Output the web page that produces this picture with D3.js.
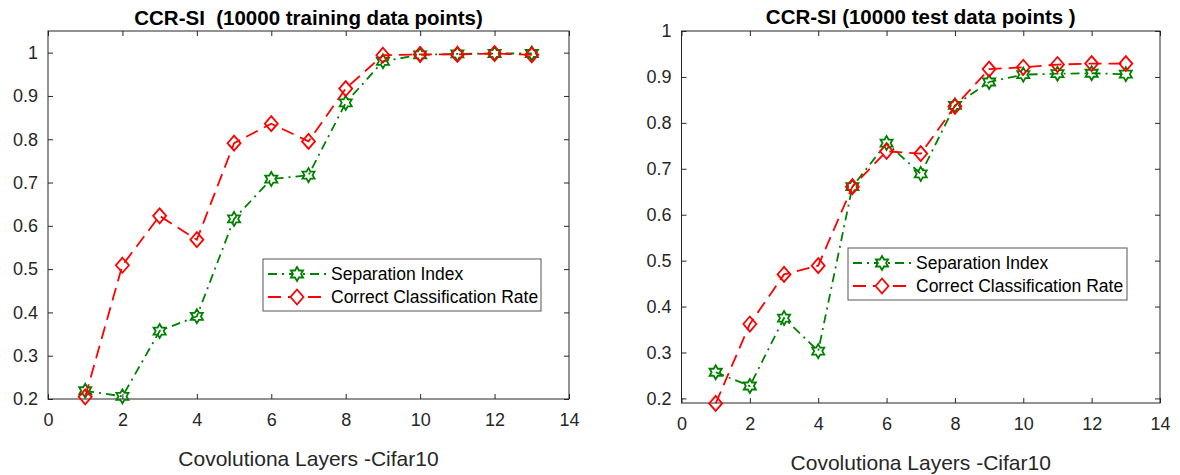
<!DOCTYPE html>
<html>
<head>
<meta charset="utf-8">
<script src="https://cdn.jsdelivr.net/npm/d3@7"></script>
<style>
  body { margin: 0; background: #fff; }
  svg { font-family: "Liberation Sans", Arial, Helvetica, sans-serif; }
</style>
</head>
<body>
<svg id="chart" width="1180" height="475"></svg>
<script>
// layers on the x axis
var layers = [1, 2, 3, 4, 5, 6, 7, 8, 9, 10, 11, 12, 13];

// training set (left panel)
var trainSI  = [0.219, 0.206, 0.357, 0.391, 0.616, 0.708, 0.717, 0.884, 0.980, 0.995, 0.997, 0.998, 0.998];
var trainCCR = [0.205, 0.509, 0.623, 0.568, 0.791, 0.836, 0.795, 0.917, 0.994, 0.996, 0.996, 0.998, 0.995];

// test set (right panel)
var testSI  = [0.257, 0.227, 0.375, 0.303, 0.661, 0.756, 0.689, 0.838, 0.889, 0.905, 0.907, 0.908, 0.906];
var testCCR = [0.189, 0.362, 0.470, 0.489, 0.661, 0.738, 0.733, 0.836, 0.917, 0.921, 0.927, 0.929, 0.929];

var xTicks = [0, 2, 4, 6, 8, 10, 12, 14];
var yTicks = [0.2, 0.3, 0.4, 0.5, 0.6, 0.7, 0.8, 0.9, 1];

var seriesNames = ["Separation Index", "Correct Classification Rate"];
var titles = ["CCR-SI  (10000 training data points)", "CCR-SI (10000 test data points )"];
var xLabel = "Covolutiona Layers -Cifar10";

var GREEN = "#008000", RED = "#ff0000", AXC = "#262626";

var svg = d3.select("#chart");

var panels = [
    {left: 48, right: 569, top: 31, bottom: 399, ymin: 0.2, ymax: 1.05,
     si: trainSI, ccr: trainCCR, title: titles[0],
     legend: {x: 263, y: 259, w: 278, h: 52}, labelY: 466, titleY: 25},
    {left: 681.5, right: 1160, top: 31, bottom: 403, ymin: 0.19, ymax: 1.0,
     si: testSI, ccr: testCCR, title: titles[1],
     legend: {x: 848, y: 248, w: 279, h: 52}, labelY: 470, titleY: 24}
];

// six-pointed star (MATLAB 'h') and diamond ('d')
function hexagram(r) {
    var pts = [];
    for (var i = 0; i < 12; i++) {
        var a = -Math.PI / 2 + i * Math.PI / 6;
        var rr = (i % 2 === 0) ? r : r / Math.sqrt(3);
        pts.push([rr * Math.cos(a), rr * Math.sin(a)]);
    }
    return "M" + pts.join("L") + "Z";
}
var starPath = hexagram(7);
var diamondPath = "M0,-7.5L6.5,0L0,7.5L-6.5,0Z";

function drawSeries(g, x, y, vals, color, dash, marker) {
    var line = d3.line()
        .x(function(d, i) { return x(layers[i]); })
        .y(function(d) { return y(d); });
    g.append("path")
        .datum(vals)
        .attr("fill", "none")
        .attr("stroke", color)
        .attr("stroke-width", 1.8)
        .attr("stroke-dasharray", dash)
        .attr("d", line);
    g.selectAll(null)
        .data(vals)
        .enter()
        .append("path")
        .attr("d", marker)
        .attr("transform", function(d, i) { return "translate(" + x(layers[i]) + "," + y(d) + ")"; })
        .attr("fill", "none")
        .attr("stroke", color)
        .attr("stroke-width", 1.8);
}

panels.forEach(function(p) {
    var x = d3.scaleLinear().domain([0, 14]).range([p.left, p.right]);
    var y = d3.scaleLinear().domain([p.ymin, p.ymax]).range([p.bottom, p.top]);
    var g = svg.append("g");

    // axes, ticks pointing inward
    var xa = g.append("g")
        .attr("transform", "translate(0," + p.bottom + ")")
        .call(d3.axisBottom(x).tickValues(xTicks).tickSize(-5).tickPadding(14));
    var ya = g.append("g")
        .attr("transform", "translate(" + p.left + ",0)")
        .call(d3.axisLeft(y).tickValues(yTicks).tickSize(-5).tickPadding(10)
            .tickFormat(function(d) { return d === 1 ? "1" : d.toFixed(1); }));
    var xt = g.append("g")
        .attr("transform", "translate(0," + p.top + ")")
        .call(d3.axisTop(x).tickValues(xTicks).tickSize(-5).tickFormat(""));
    var yr = g.append("g")
        .attr("transform", "translate(" + p.right + ",0)")
        .call(d3.axisRight(y).tickValues(yTicks).tickSize(-5).tickFormat(""));

    [xa, ya, xt, yr].forEach(function(a) {
        a.select(".domain").remove();
        a.selectAll(".tick line").attr("stroke", AXC);
        a.selectAll(".tick text").attr("fill", AXC).style("font-size", "18px");
    });

    g.append("rect")
        .attr("x", p.left).attr("y", p.top)
        .attr("width", p.right - p.left).attr("height", p.bottom - p.top)
        .attr("fill", "none").attr("stroke", AXC).attr("stroke-width", 1);

    drawSeries(g, x, y, p.si, GREEN, "9,5,2,5", starPath);
    drawSeries(g, x, y, p.ccr, RED, "13,7", diamondPath);

    // title and x label
    g.append("text")
        .attr("x", (p.left + p.right) / 2).attr("y", p.titleY)
        .attr("text-anchor", "middle")
        .style("font-size", "20.5px").style("font-weight", "bold")
        .style("white-space", "pre")
        .attr("fill", "#000")
        .text(p.title);
    g.append("text")
        .attr("x", (p.left + p.right) / 2).attr("y", p.labelY)
        .attr("text-anchor", "middle")
        .style("font-size", "21px")
        .attr("fill", AXC)
        .text(xLabel);

    // legend
    var L = p.legend;
    var lg = g.append("g").attr("transform", "translate(" + L.x + "," + L.y + ")");
    lg.append("rect")
        .attr("width", L.w).attr("height", L.h)
        .attr("fill", "#fff").attr("stroke", "#555").attr("stroke-width", 1);
    var rows = [
        {name: seriesNames[0], color: GREEN, dash: "9,5,2,5", marker: starPath},
        {name: seriesNames[1], color: RED, dash: "13,7", marker: diamondPath}
    ];
    rows.forEach(function(r, i) {
        var cy = 15 + i * 23;
        lg.append("line")
            .attr("x1", 5).attr("x2", 63).attr("y1", cy).attr("y2", cy)
            .attr("stroke", r.color).attr("stroke-width", 1.8)
            .attr("stroke-dasharray", r.dash);
        lg.append("path")
            .attr("d", r.marker)
            .attr("transform", "translate(34," + cy + ")")
            .attr("fill", "#fff").attr("stroke", r.color).attr("stroke-width", 1.8);
        lg.append("text")
            .attr("x", 68).attr("y", cy).attr("dy", "0.35em")
            .style("font-size", "17.5px").attr("fill", "#000")
            .text(r.name);
    });
});
</script>
</body>
</html>
